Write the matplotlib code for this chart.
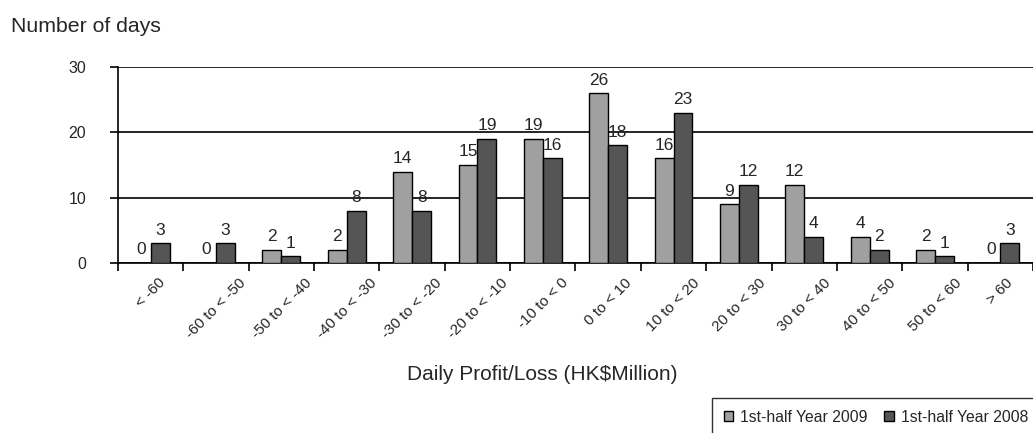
import matplotlib
matplotlib.use("Agg")
import matplotlib.pyplot as plt
import numpy as np
from matplotlib.patches import Patch

categories = ["< -60", "-60 to < -50", "-50 to < -40", "-40 to < -30", "-30 to < -20",
              "-20 to < -10", "-10 to < 0", "0 to < 10", "10 to < 20", "20 to < 30",
              "30 to < 40", "40 to < 50", "50 to < 60", "> 60"]
h2009 = [0, 0, 2, 2, 14, 15, 19, 26, 16, 9, 12, 4, 2, 0]
h2008 = [3, 3, 1, 8, 8, 19, 16, 18, 23, 12, 4, 2, 1, 3]
series_names = ["1st-half Year 2009", "1st-half Year 2008"]
yticks = [0, 10, 20, 30]

plt.rcParams['font.family'] = ['Liberation Sans', 'DejaVu Sans']
txt = '#262626'
c_light = '#a0a0a0'
c_dark = '#555555'

fig = plt.figure(figsize=(10.33, 4.33), dpi=100)
ax = fig.add_axes([118/1033, 1-263/433, 1-118/1033, 196/433])

x = np.arange(len(categories))
w = 0.29
ax.bar(x - w/2, h2009, w, color=c_light, edgecolor='black', linewidth=1.0, zorder=3)
ax.bar(x + w/2, h2008, w, color=c_dark, edgecolor='black', linewidth=1.0, zorder=3)

for xi, v in zip(x, h2009):
    ax.text(xi - w/2, v + 0.85, str(v), ha='center', va='bottom', fontsize=12.5, color=txt, zorder=4)
for xi, v in zip(x, h2008):
    ax.text(xi + w/2, v + 0.85, str(v), ha='center', va='bottom', fontsize=12.5, color=txt, zorder=4)

ax.set_xlim(-0.5, len(categories) - 0.5)
ax.set_ylim(0, 30)
ax.set_yticks(yticks)
ax.set_yticklabels([str(t) for t in yticks], fontsize=11.5, color=txt)
ax.set_xticks(np.arange(len(categories) + 1) - 0.5, minor=False)
ax.set_xticklabels([])
ax.set_xticks(x, minor=True)
ax.set_xticklabels(categories, minor=True, rotation=45, ha='center', va='top', fontsize=11, color=txt)
ax.tick_params(axis='x', which='minor', length=0, pad=9)
ax.tick_params(axis='x', which='major', direction='out', length=6, width=1.2, color='black')
ax.tick_params(axis='y', direction='out', length=6, width=1.2, color='black', pad=17)

ax.grid(axis='y', color='black', linewidth=1.2, zorder=0)
ax.set_axisbelow(True)
for s in ['top', 'right']:
    ax.spines[s].set_visible(False)
ax.spines['left'].set_linewidth(1.2)
ax.spines['bottom'].set_linewidth(1.2)

fig.text(542/1033, 1-374/433, "Daily Profit/Loss (HK$Million)", ha='center', va='center',
         fontsize=15, color=txt)
fig.text(11/1033, 1-27/433, "Number of days", ha='left', va='center', fontsize=15.3, color=txt)

handles = [Patch(facecolor=c_light, edgecolor='black', linewidth=1.0),
           Patch(facecolor=c_dark, edgecolor='black', linewidth=1.0)]
leg = fig.legend(handles, series_names, loc='upper left', bbox_to_anchor=(712/1033, 1-398/433),
                 ncol=2, frameon=True, fancybox=False, fontsize=11.3, handlelength=0.6,
                 handleheight=0.6, handletextpad=0.45, columnspacing=1.05, borderpad=0.75,
                 borderaxespad=0)
leg.get_frame().set_edgecolor('black')
leg.get_frame().set_linewidth(1.0)
for t in leg.get_texts():
    t.set_color(txt)

fig.savefig("out.png", dpi=100)
